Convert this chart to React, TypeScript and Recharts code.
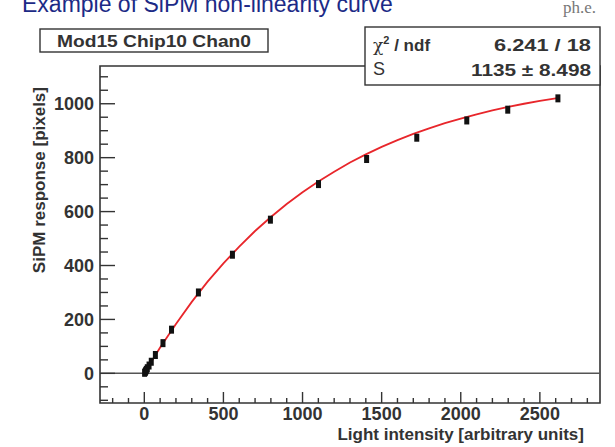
import React from 'react';
import { ScatterChart, Scatter, XAxis, YAxis, ReferenceLine, ReferenceArea } from 'recharts';

// Measured points (light intensity, SiPM response)
const pointX = [2, 6, 9, 13, 19, 30, 44, 70, 118, 172, 342, 557, 797, 1101, 1405, 1722, 2038, 2297, 2614];
const pointY = [2, 5, 9, 13, 19, 29, 43, 68, 112, 162, 300, 440, 570, 702, 795, 874, 938, 978, 1020];

// Red fit curve
const curveX = [0, 100, 200, 300, 400, 500, 600, 700, 800, 900, 1000, 1100, 1200, 1300, 1400, 1500, 1600, 1700, 1800, 1900, 2000, 2100, 2200, 2300, 2400, 2500, 2620];
const curveY = [0, 96, 183, 265, 340, 408, 470, 528, 580, 628, 672, 712, 748, 782, 812, 840, 865, 888, 909, 928, 945, 961, 975, 988, 1000, 1011, 1022];

const xTicks = [-200, -100, 0, 100, 200, 300, 400, 500, 600, 700, 800, 900, 1000, 1100, 1200, 1300, 1400, 1500, 1600, 1700, 1800, 1900, 2000, 2100, 2200, 2300, 2400, 2500, 2600, 2700, 2800];
const xMajor = [0, 500, 1000, 1500, 2000, 2500];
const yTicks = [-100, -50, 0, 50, 100, 150, 200, 250, 300, 350, 400, 450, 500, 550, 600, 650, 700, 750, 800, 850, 900, 950, 1000, 1050, 1100];
const yMajor = [0, 200, 400, 600, 800, 1000];

const xDomain: [number, number] = [-280, 2880];
const yDomain: [number, number] = [-110, 1140];

const points = pointX.map((x, i) => ({ x, y: pointY[i] }));
const curve = curveX.map((x, i) => ({ x, y: curveY[i] }));

const FONT = '"Liberation Sans", Arial, Helvetica, sans-serif';
const INK = '#333333';

const X_MARGIN = 6;
const Y_MARGIN = 4;

const XTick = (props: any) => {
  const { x, y, payload } = props;
  const v = payload.value;
  const major = xMajor.includes(v);
  const base = y - X_MARGIN;
  return (
    <g>
      <line x1={x} x2={x} y1={base} y2={base - (major ? 11 : 5)} stroke={INK} strokeWidth={1.4} />
      {major && (
        <text x={x} y={base + 4} dy="0.71em" textAnchor="middle" fontFamily={FONT} fontWeight="bold" fontSize={18} fill={INK}>
          {v}
        </text>
      )}
    </g>
  );
};

const YTick = (props: any) => {
  const { x, y, payload } = props;
  const v = payload.value;
  const major = yMajor.includes(v);
  const base = x + Y_MARGIN;
  return (
    <g>
      <line x1={base} x2={base + (major ? 15 : 8)} y1={y} y2={y} stroke={INK} strokeWidth={1.4} />
      {major && (
        <text x={x - 2} y={y} dy="0.36em" textAnchor="end" fontFamily={FONT} fontWeight="bold" fontSize={18} fill={INK}>
          {v}
        </text>
      )}
    </g>
  );
};

const Marker = (props: any) => {
  const { cx, cy } = props;
  if (cx == null || cy == null) return <g />;
  return <rect x={cx - 2.5} y={cy - 4} width={5} height={8} fill="#111" />;
};

const NoShape = () => <g />;

export default function App() {
  return (
    <div style={{ position: 'absolute', left: 0, top: 0, width: 615, height: 447, background: '#fff' }}>
      <ScatterChart width={615} height={447} margin={{ top: 66, right: 15, left: 0, bottom: 0 }}>
        <XAxis
          type="number"
          dataKey="x"
          domain={xDomain}
          allowDataOverflow
          ticks={xTicks}
          interval={0}
          tick={<XTick />}
          tickLine={false}
          axisLine={false}
          tickSize={0}
          tickMargin={X_MARGIN}
          height={44}
        />
        <YAxis
          type="number"
          dataKey="y"
          domain={yDomain}
          allowDataOverflow
          ticks={yTicks}
          interval={0}
          tick={<YTick />}
          tickLine={false}
          axisLine={false}
          tickSize={0}
          tickMargin={Y_MARGIN}
          width={100}
        />
        <ReferenceLine y={0} stroke="#555" strokeWidth={1.5} />
        <ReferenceArea x1={xDomain[0]} x2={xDomain[1]} y1={yDomain[0]} y2={yDomain[1]} fill="none" stroke={INK} strokeWidth={1.6} fillOpacity={0} ifOverflow="visible" />
        <Scatter data={curve} line={{ stroke: '#e8262b', strokeWidth: 1.8 }} lineType="joint" shape={<NoShape />} isAnimationActive={false} />
        <Scatter data={points} shape={<Marker />} isAnimationActive={false} />
      </ScatterChart>
      <svg width={615} height={447} style={{ position: 'absolute', left: 0, top: 0, pointerEvents: 'none' }}>
        <text x={22} y={12} fontFamily={FONT} fontSize={23} fill="#1c2a86">Example of SiPM non-linearity curve</text>
        <text x={596} y={13} textAnchor="end" fontFamily='"Liberation Serif", "DejaVu Serif", serif' fontSize={17} fill="#777">ph.e.</text>
        <rect x={40} y={29} width={228} height={23} fill="#fff" stroke={INK} strokeWidth={1.4} />
        <text x={154} y={47} textAnchor="middle" fontFamily={FONT} fontWeight="bold" fontSize={17} fill={INK} textLength={194} lengthAdjust="spacingAndGlyphs">Mod15 Chip10 Chan0</text>
        <rect x={365} y={27} width={235} height={58} fill="#fff" stroke={INK} strokeWidth={1.4} />
        <text x={373} y={51} fontFamily={FONT} fontSize={17} fill={INK}>
          <tspan fontFamily='"DejaVu Serif", serif'>χ</tspan>
          <tspan fontWeight="bold" fontSize={11} dy={-7}>2</tspan>
          <tspan fontWeight="bold" dy={7}> / ndf</tspan>
        </text>
        <text x={591} y={51} textAnchor="end" fontFamily={FONT} fontWeight="bold" fontSize={17} fill={INK} textLength={97} lengthAdjust="spacingAndGlyphs">6.241 / 18</text>
        <text x={373} y={75} fontFamily={FONT} fontSize={18} fill={INK}>S</text>
        <text x={591} y={76} textAnchor="end" fontFamily={FONT} fontWeight="bold" fontSize={17} fill={INK} textLength={120} lengthAdjust="spacingAndGlyphs">1135 ± 8.498</text>
        <text transform="translate(45,87) rotate(-90)" textAnchor="end" fontFamily={FONT} fontWeight="bold" fontSize={17} fill={INK}>SiPM response [pixels]</text>
        <text x={584} y={440} textAnchor="end" fontFamily={FONT} fontWeight="bold" fontSize={17} fill={INK}>Light intensity [arbitrary units]</text>
      </svg>
    </div>
  );
}
